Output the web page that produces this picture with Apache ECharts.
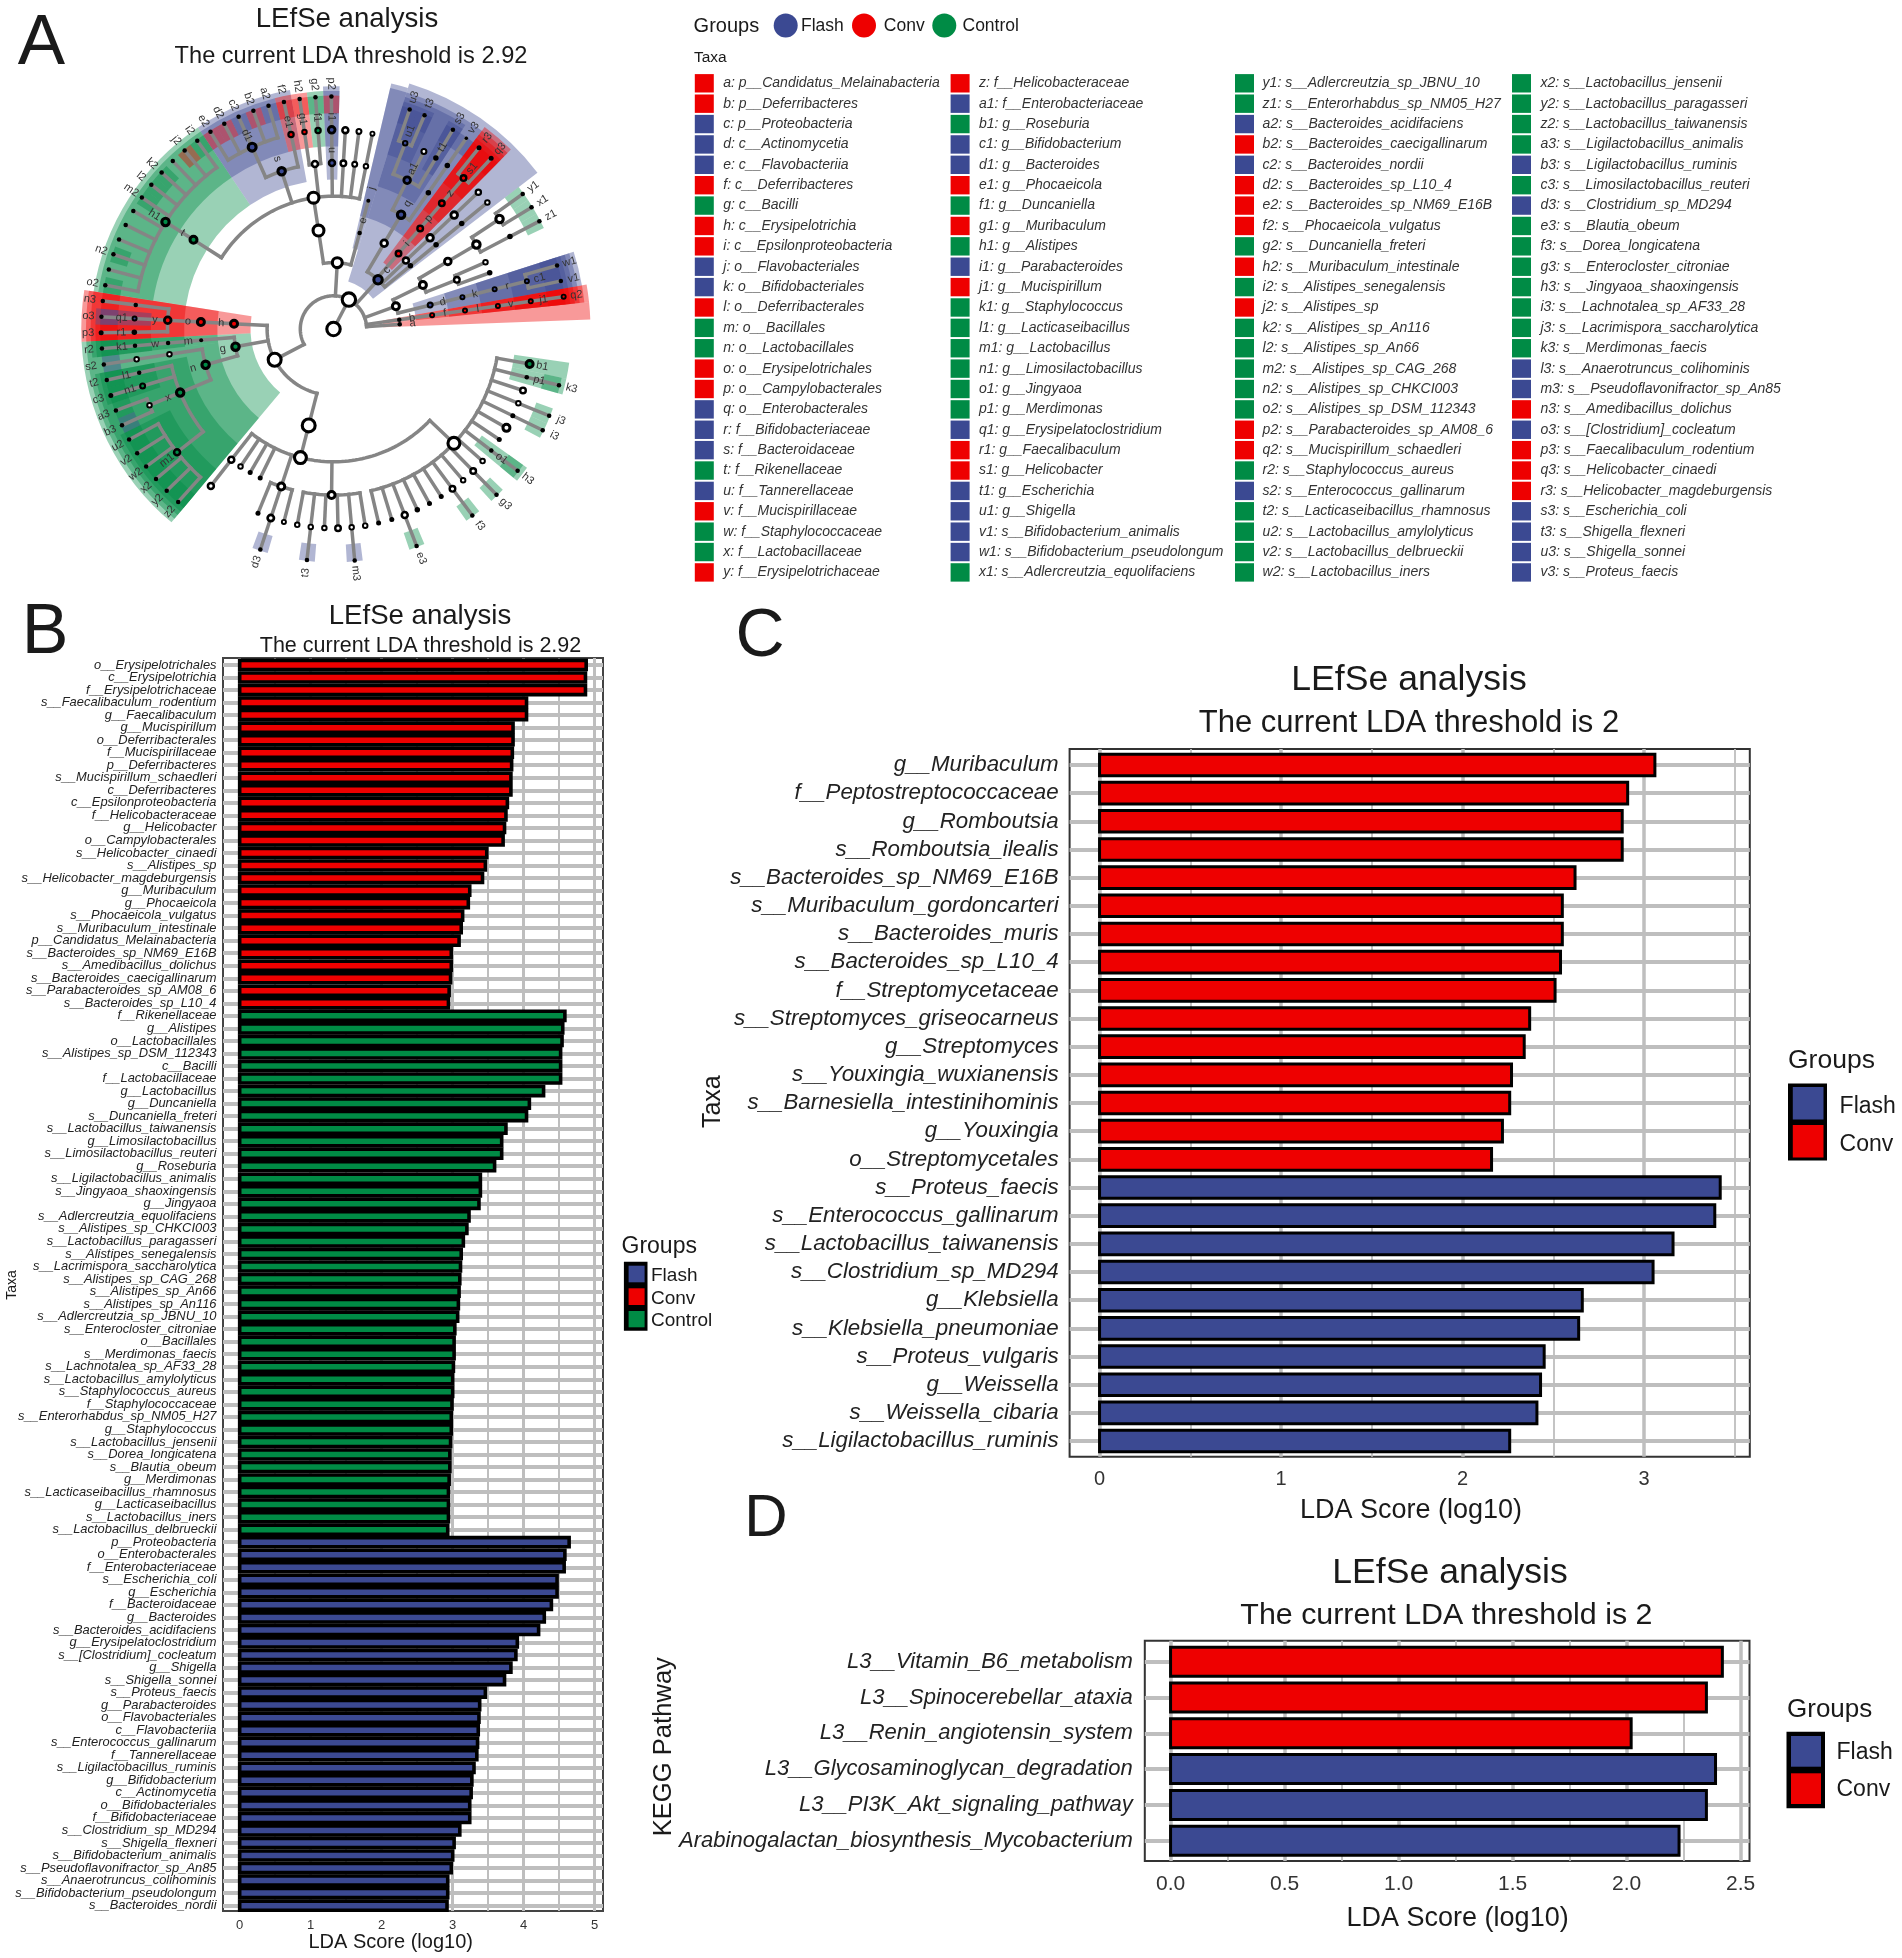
<!DOCTYPE html>
<html><head><meta charset="utf-8"><style>html,body{margin:0;padding:0;background:#fff}#c{width:1902px;height:1958px}</style>
<script src="https://cdn.jsdelivr.net/npm/echarts@6/dist/echarts.min.js"></script></head><body><div id="c"></div>
<script>
/* ---------- DATA: panel B ---------- */
const bConvTaxa=["o__Erysipelotrichales","c__Erysipelotrichia","f__Erysipelotrichaceae","s__Faecalibaculum_rodentium","g__Faecalibaculum","g__Mucispirillum","o__Deferribacterales","f__Mucispirillaceae","p__Deferribacteres","s__Mucispirillum_schaedleri","c__Deferribacteres","c__Epsilonproteobacteria","f__Helicobacteraceae","g__Helicobacter","o__Campylobacterales","s__Helicobacter_cinaedi","s__Alistipes_sp","s__Helicobacter_magdeburgensis","g__Muribaculum","g__Phocaeicola","s__Phocaeicola_vulgatus","s__Muribaculum_intestinale","p__Candidatus_Melainabacteria","s__Bacteroides_sp_NM69_E16B","s__Amedibacillus_dolichus","s__Bacteroides_caecigallinarum","s__Parabacteroides_sp_AM08_6","s__Bacteroides_sp_L10_4"];
const bConvScores=[4.88,4.87,4.87,4.04,4.04,3.85,3.85,3.84,3.83,3.82,3.82,3.77,3.75,3.73,3.71,3.48,3.46,3.42,3.24,3.22,3.14,3.12,3.09,2.98,2.98,2.97,2.95,2.94];
const bControlTaxa=["f__Rikenellaceae","g__Alistipes","o__Lactobacillales","s__Alistipes_sp_DSM_112343","c__Bacilli","f__Lactobacillaceae","g__Lactobacillus","g__Duncaniella","s__Duncaniella_freteri","s__Lactobacillus_taiwanensis","g__Limosilactobacillus","s__Limosilactobacillus_reuteri","g__Roseburia","s__Ligilactobacillus_animalis","s__Jingyaoa_shaoxingensis","g__Jingyaoa","s__Adlercreutzia_equolifaciens","s__Alistipes_sp_CHKCI003","s__Lactobacillus_paragasseri","s__Alistipes_senegalensis","s__Lacrimispora_saccharolytica","s__Alistipes_sp_CAG_268","s__Alistipes_sp_An66","s__Alistipes_sp_An116","s__Adlercreutzia_sp_JBNU_10","s__Enterocloster_citroniae","o__Bacillales","s__Merdimonas_faecis","s__Lachnotalea_sp_AF33_28","s__Lactobacillus_amylolyticus","s__Staphylococcus_aureus","f__Staphylococcaceae","s__Enterorhabdus_sp_NM05_H27","g__Staphylococcus","s__Lactobacillus_jensenii","s__Dorea_longicatena","s__Blautia_obeum","g__Merdimonas","s__Lacticaseibacillus_rhamnosus","g__Lacticaseibacillus","s__Lactobacillus_iners","s__Lactobacillus_delbrueckii"];
const bControlScores=[4.58,4.55,4.54,4.52,4.52,4.52,4.28,4.08,4.04,3.75,3.69,3.69,3.59,3.39,3.39,3.37,3.23,3.2,3.15,3.12,3.11,3.1,3.09,3.08,3.07,3.03,3.02,3.02,3.01,3.0,3.0,2.99,2.98,2.98,2.97,2.96,2.96,2.95,2.94,2.94,2.94,2.93];
const bFlashTaxa=["p__Proteobacteria","o__Enterobacterales","f__Enterobacteriaceae","s__Escherichia_coli","g__Escherichia","f__Bacteroidaceae","g__Bacteroides","s__Bacteroides_acidifaciens","g__Erysipelatoclostridium","s__[Clostridium]_cocleatum","g__Shigella","s__Shigella_sonnei","s__Proteus_faecis","g__Parabacteroides","o__Flavobacteriales","c__Flavobacteriia","s__Enterococcus_gallinarum","f__Tannerellaceae","s__Ligilactobacillus_ruminis","g__Bifidobacterium","c__Actinomycetia","o__Bifidobacteriales","f__Bifidobacteriaceae","s__Clostridium_sp_MD294","s__Shigella_flexneri","s__Bifidobacterium_animalis","s__Pseudoflavonifractor_sp_An85","s__Anaerotruncus_colihominis","s__Bifidobacterium_pseudolongum","s__Bacteroides_nordii"];
const bFlashScores=[4.64,4.58,4.57,4.47,4.47,4.39,4.29,4.21,3.91,3.89,3.82,3.73,3.46,3.38,3.37,3.36,3.35,3.34,3.30,3.27,3.26,3.24,3.24,3.10,3.02,3.0,2.98,2.93,2.93,2.92];
/* ---------- DATA: panel C ---------- */
const cConvTaxa=["g__Muribaculum","f__Peptostreptococcaceae","g__Romboutsia","s__Romboutsia_ilealis","s__Bacteroides_sp_NM69_E16B","s__Muribaculum_gordoncarteri","s__Bacteroides_muris","s__Bacteroides_sp_L10_4","f__Streptomycetaceae","s__Streptomyces_griseocarneus","g__Streptomyces","s__Youxingia_wuxianensis","s__Barnesiella_intestinihominis","g__Youxingia","o__Streptomycetales"];
const cConvScores=[3.06,2.91,2.88,2.88,2.62,2.55,2.55,2.54,2.51,2.37,2.34,2.27,2.26,2.22,2.16];
const cFlashTaxa=["s__Proteus_faecis","s__Enterococcus_gallinarum","s__Lactobacillus_taiwanensis","s__Clostridium_sp_MD294","g__Klebsiella","s__Klebsiella_pneumoniae","s__Proteus_vulgaris","g__Weissella","s__Weissella_cibaria","s__Ligilactobacillus_ruminis"];
const cFlashScores=[3.42,3.39,3.16,3.05,2.66,2.64,2.45,2.43,2.41,2.26];
/* ---------- DATA: panel D ---------- */
const dConvTaxa=["L3__Vitamin_B6_metabolism","L3__Spinocerebellar_ataxia","L3__Renin_angiotensin_system"];
const dConvScores=[2.42,2.35,2.02];
const dFlashTaxa=["L3__Glycosaminoglycan_degradation","L3__PI3K_Akt_signaling_pathway","Arabinogalactan_biosynthesis_Mycobacterium"];
const dFlashScores=[2.39,2.35,2.23];
/* ---------- DATA: panel A taxa key ---------- */
const taxaCol1=["a: p__Candidatus_Melainabacteria","b: p__Deferribacteres","c: p__Proteobacteria","d: c__Actinomycetia","e: c__Flavobacteriia","f: c__Deferribacteres","g: c__Bacilli","h: c__Erysipelotrichia","i: c__Epsilonproteobacteria","j: o__Flavobacteriales","k: o__Bifidobacteriales","l: o__Deferribacterales","m: o__Bacillales","n: o__Lactobacillales","o: o__Erysipelotrichales","p: o__Campylobacterales","q: o__Enterobacterales","r: f__Bifidobacteriaceae","s: f__Bacteroidaceae","t: f__Rikenellaceae","u: f__Tannerellaceae","v: f__Mucispirillaceae","w: f__Staphylococcaceae","x: f__Lactobacillaceae","y: f__Erysipelotrichaceae"];
const taxaCol2=["z: f__Helicobacteraceae","a1: f__Enterobacteriaceae","b1: g__Roseburia","c1: g__Bifidobacterium","d1: g__Bacteroides","e1: g__Phocaeicola","f1: g__Duncaniella","g1: g__Muribaculum","h1: g__Alistipes","i1: g__Parabacteroides","j1: g__Mucispirillum","k1: g__Staphylococcus","l1: g__Lacticaseibacillus","m1: g__Lactobacillus","n1: g__Limosilactobacillus","o1: g__Jingyaoa","p1: g__Merdimonas","q1: g__Erysipelatoclostridium","r1: g__Faecalibaculum","s1: g__Helicobacter","t1: g__Escherichia","u1: g__Shigella","v1: s__Bifidobacterium_animalis","w1: s__Bifidobacterium_pseudolongum","x1: s__Adlercreutzia_equolifaciens"];
const taxaCol3=["y1: s__Adlercreutzia_sp_JBNU_10","z1: s__Enterorhabdus_sp_NM05_H27","a2: s__Bacteroides_acidifaciens","b2: s__Bacteroides_caecigallinarum","c2: s__Bacteroides_nordii","d2: s__Bacteroides_sp_L10_4","e2: s__Bacteroides_sp_NM69_E16B","f2: s__Phocaeicola_vulgatus","g2: s__Duncaniella_freteri","h2: s__Muribaculum_intestinale","i2: s__Alistipes_senegalensis","j2: s__Alistipes_sp","k2: s__Alistipes_sp_An116","l2: s__Alistipes_sp_An66","m2: s__Alistipes_sp_CAG_268","n2: s__Alistipes_sp_CHKCI003","o2: s__Alistipes_sp_DSM_112343","p2: s__Parabacteroides_sp_AM08_6","q2: s__Mucispirillum_schaedleri","r2: s__Staphylococcus_aureus","s2: s__Enterococcus_gallinarum","t2: s__Lacticaseibacillus_rhamnosus","u2: s__Lactobacillus_amylolyticus","v2: s__Lactobacillus_delbrueckii","w2: s__Lactobacillus_iners"];
const taxaCol4=["x2: s__Lactobacillus_jensenii","y2: s__Lactobacillus_paragasseri","z2: s__Lactobacillus_taiwanensis","a3: s__Ligilactobacillus_animalis","b3: s__Ligilactobacillus_ruminis","c3: s__Limosilactobacillus_reuteri","d3: s__Clostridium_sp_MD294","e3: s__Blautia_obeum","f3: s__Dorea_longicatena","g3: s__Enterocloster_citroniae","h3: s__Jingyaoa_shaoxingensis","i3: s__Lachnotalea_sp_AF33_28","j3: s__Lacrimispora_saccharolytica","k3: s__Merdimonas_faecis","l3: s__Anaerotruncus_colihominis","m3: s__Pseudoflavonifractor_sp_An85","n3: s__Amedibacillus_dolichus","o3: s__[Clostridium]_cocleatum","p3: s__Faecalibaculum_rodentium","q3: s__Helicobacter_cinaedi","r3: s__Helicobacter_magdeburgensis","s3: s__Escherichia_coli","t3: s__Shigella_flexneri","u3: s__Shigella_sonnei","v3: s__Proteus_faecis"];
const taxaGroups1="RRBBBRGRRBBRGGRRBBBGBRGGR", taxaGroups2="RBGBBRGRGBRGGGGGGBRRBBBBG", taxaGroups3="GGBRBRRRGRGRGGGGGRRGBGGGG", taxaGroups4="GGGGBGBGGGGGGGBBRBRRRBBBB";
/* ---------- DATA: panel A cladogram; node = [label, abundance, ...children], leaves listed clockwise ---------- */
const N=(l,a,...k)=>({label:l,ab:a,kids:k});
const T=(l,a=4.5)=>N(l,a);
const cladeClostridiaLarge=N('',15,N('b1',10),N('p1',4.5,T('k3')),N('',8),N('',6.5,T('j3')),N('',5,T('i3')),N('',10),N('',5),N('o1',4.5,T('h3')),N('',6.5),N('',8,T('g3')),N('',6.5),N('',8,T('f3')),N('',5),N('',5),N('',5.5),N('',8.5,T('e3')),N('',5),N('',5));
const cladeClostridiaMid=N('',10,N('',6.5),N('',6.5,T('m3')),N('',8),N('',6.5),N('',6.5,T('t3')),N('',6.5));
const cladeClostridiaSmall=N('',10,N('',6),N('',9,T('d3')),N('',5));
const cladeClostridia=N('',16,N('',15,cladeClostridiaLarge,cladeClostridiaMid,cladeClostridiaSmall,N('',5),N('',5),N('',6.5),N('',8.5,N('',8.5))));
const cladeBacilli=N('g',10.5,N('n',10.5,N('x',10.5,N('m1',8.5,T('z2'),T('y2'),T('x2'),T('w2'),T('v2'),T('u2')),N('',6.5,T('b3'),T('a3')),N('n1',7,T('c3',5)),N('l1',4.5,T('t2'))),N('',6.5,N('',6.5,T('s2')))),N('m',4,N('w',4.5,N('k1',4.5,T('r2')))));
const cladeErysipelo=N('h',10,N('o',10,N('y',9.5,N('r1',5.5,T('p3',5)),N('q1',6,T('o3')),N('',4.5,T('n3')))));
const cladeRikenella=N('t',10,N('h1',10.5,T('o2'),T(''),T('n2'),T(''),T(''),T(''),T('m2'),T('l2'),T('k2'),T(''),T('j2'),T('i2')));
const cladeBacteroidaceae=N('s',10.5,N('d1',11,T('e2'),T('d2'),T('c2'),T('b2'),T('a2')),N('e1',7.5,T('f2')));
const cladeBacteroidota=N('',13,N('',14,N('',14,cladeRikenella,cladeBacteroidaceae,N('',8.5,N('g1',6.5,T('h2')),N('f1',7.5,T('g2'))),N('u',8.5,N('i1',9.5,T('p2'))),N('',8,N('',8.5)),N('',7,N('',7)),N('',6.5,N('',6)))),N('e',4.5,N('j',4)));
const cladeEnterobac=N('',9.5,N('q',10.5,N('a1',9.5,N('u1',6.5,T('u3'),T('t3')),N('',7),N('t1',5.5,T('s3'))),N('',5.5,N('',5.5,T('v3',3.5)))));
const cladeProteo=N('c',11.5,cladeEnterobac,N('i',8,N('p',8,N('z',8,N('s1',8,T('r3',5),T('q3',5))))),N('',8.5,N('',9.5,N('',9.5,N('',7.5)))),N('',5.5,N('',5.5,N('',5.5,N('',6.5)))));
const cladeActino=N('',10,N('',10,N('',9.5,N('',10.5,N('',10.5,T('y1'),T('x1')),N('',5.5,T('z1')))),N('',8,N('',6.5),N('',5.5))),N('d',7,N('k',6,N('r',6,N('c1',6,T('w1'),T('v1'))))));
const cladeDeferri=N('b',4.5,N('f',6,N('l',6,N('v',6,N('j1',6,T('q2',6))))));
const cladeMelaina=N('a',4.5);
const cladeFirmicutes=N('',16,cladeClostridia,cladeBacilli,cladeErysipelo);
const cladeRoot=N('',16.5,N('',16.5,cladeFirmicutes,cladeBacteroidota,cladeProteo,cladeActino,cladeDeferri,cladeMelaina));
const groupColors={B:'#3B4992',R:'#EE0000',G:'#008B45'};

/* ---------- cladogram layout from the tree ---------- */
const tipStart=-10.1, tipStep=-3.93;
const keyGroup={};
[[taxaCol1,taxaGroups1],[taxaCol2,taxaGroups2],[taxaCol3,taxaGroups3],[taxaCol4,taxaGroups4]].forEach(([c,g])=>c.forEach((t,i)=>{keyGroup[t.split(':')[0]]=g[i];}));
let tipCount=0; const allNodes=[], edgeRows=[];
(function lay(n,depth){
  n.depth=depth;
  n.kids.forEach(k=>lay(k,depth+1));
  if(!n.kids.length){n.angle=n.lo=n.hi=tipStart+tipStep*tipCount++;}
  else{
    const as=n.kids.map(k=>k.angle);
    n.angle=as.reduce((a,b)=>a+b,0)/as.length;
    n.hi=Math.max(...n.kids.map(k=>k.hi)); n.lo=Math.min(...n.kids.map(k=>k.lo));
    if(as.length>1) edgeRows.push([depth,Math.min(...as),depth,Math.max(...as)]);
    n.kids.forEach(k=>edgeRows.push([depth,k.angle,depth+1,k.angle]));
  }
  allNodes.push(n);
})(cladeRoot,0);
const shadeRows=allNodes.filter(n=>n.label&&keyGroup[n.label]).sort((a,b)=>a.depth-b.depth)
  .map(n=>[n.depth-0.5,n.lo+tipStep/2,n.hi-tipStep/2,7.03+(7-n.depth)*0.142,groupColors[keyGroup[n.label]]]);
const nodeRows=allNodes.map(n=>[n.depth,n.angle,n.ab,n.label&&keyGroup[n.label]?keyGroup[n.label]:'']);
const labelRows=allNodes.filter(n=>n.label).map(n=>[n.depth+0.39,n.angle,n.label]);

/* ---------- shared style ---------- */
const FF='"Liberation Sans",Arial,sans-serif', INK='#1a1a1a', GRID='#BEBEBE';
const gfx=[];
const txt=(text,x,y,size,o={})=>gfx.push({type:'text',x,y,rotation:o.rot||0,silent:true,style:{text,fontSize:size,fontFamily:FF,fontStyle:o.italic?'italic':'normal',fill:o.fill||INK,align:o.align||'center',verticalAlign:'middle'}});
const box=(x,y,w,h,fill)=>gfx.push({type:'rect',silent:true,shape:{x,y,width:w,height:h},style:{fill}});

/* panel letters and titles */
txt('A',41.5,44,71);txt('B',45,634,70);txt('C',760,637,68);txt('D',766,1519,60);
txt('LEfSe analysis',347,19.5,27.6);txt('The current LDA threshold is 2.92',351,56.8,23.6);
txt('LEfSe analysis',420,616,27.6);txt('The current LDA threshold is 2.92',420.5,646,21.5);
txt('LEfSe analysis',1409,680.5,35.6);txt('The current LDA threshold is 2',1409,723,31);
txt('LEfSe analysis',1450,1572.7,35.6);txt('The current LDA threshold is 2',1446.4,1616,30.4);
/* axis titles */
txt('LDA Score (log10)',390.7,1942,20);txt('Taxa',12.3,1285,14,{rot:Math.PI/2});
txt('LDA Score (log10)',1411,1511,27);txt('Taxa',713,1101.7,25,{rot:Math.PI/2});
txt('LDA Score (log10)',1457.6,1919,27);txt('KEGG Pathway',664,1746.7,25.6,{rot:Math.PI/2});
/* panel A group key */
txt('Groups',693.6,26,20,{align:'left'});
[['Flash','B',785.7,801],['Conv','R',864,883.8],['Control','G',944.3,962.5]].forEach(([t,g,cx,tx])=>{
  gfx.push({type:'circle',silent:true,shape:{cx,cy:25.6,r:12},style:{fill:groupColors[g]}});
  txt(t,tx,26,17.5,{align:'left'});
});
txt('Taxa',694,57.4,15.5,{align:'left'});
[[taxaCol1,taxaGroups1,694.8,723.3],[taxaCol2,taxaGroups2,950.6,979],[taxaCol3,taxaGroups3,1235,1262.6],[taxaCol4,taxaGroups4,1512,1540.4]].forEach(([col,grp,bx,tx])=>{
  col.forEach((t,i)=>{const cy=83.3+20.38*i;box(bx,cy-9.2,19,18.4,groupColors[grp[i]]);txt(t,tx,cy,14,{align:'left',italic:true,fill:'#333'});});
});
/* bar-panel legends */
function barLegend(tx,ty,size,bx,by,bw,bh,fx,fw,rows,lx,lsize,names,dy){
  txt('Groups',tx,ty,size,{align:'left'});
  box(bx,by,bw,bh,'#000');
  rows.forEach((r,i)=>{box(fx,r[0],fw,r[1]-r[0],groupColors[names[i][1]]);txt(names[i][0],lx,(r[0]+r[1])/2+dy,lsize,{align:'left'});});
}
barLegend(621.5,1247,23,623.9,1261.7,23.6,69,628.6,16,[[1265.7,1282.3],[1288.3,1305],[1311,1327.3]],651,19,[['Flash','B'],['Conv','R'],['Control','G']],2);
barLegend(1788,1060.5,26.5,1788,1083.6,39,76.8,1792.8,30.7,[[1087,1119.4],[1125,1157.5]],1839.6,23,[['Flash','B'],['Conv','R']],3);
barLegend(1787,1709.5,26,1786.5,1731.7,38.5,76.6,1791,30,[[1736,1766.7],[1773.3,1804]],1836.5,23,[['Flash','B'],['Conv','R']],1);

/* ---------- bar panels ---------- */
const grids=[],xAxes=[],yAxes=[],seriesList=[];
function barPanel(p){
  const g=grids.length, H=p.bottom-p.top, W=p.right-p.left, ppu=W/(p.max-p.min), shift=p.barB/2/ppu;
  const lab=(v)=>p.dec?Number(v).toFixed(p.dec):String(v);
  grids.push({left:p.left,top:p.top,width:W,height:H,show:true,borderColor:p.border,borderWidth:p.borderW,backgroundColor:'transparent'});
  grids.push({left:p.left,top:p.rowTop,width:W,height:p.rowH});
  const x0=xAxes.length,y0=yAxes.length;
  xAxes.push({type:'value',gridIndex:g,min:p.min,max:p.max,axisLine:{show:false},axisTick:{show:false,customValues:p.major},
    axisLabel:{customValues:p.major,fontSize:p.tickSize,fontFamily:FF,color:'#333',margin:p.tickMargin,formatter:lab},
    splitLine:{show:true,lineStyle:{color:GRID,width:p.majW}}});
  xAxes.push({type:'value',gridIndex:g,min:p.min,max:p.max,axisLine:{show:false},axisLabel:{show:false},axisTick:{show:false,customValues:p.minor},
    splitLine:{show:true,lineStyle:{color:GRID,width:p.minW}}});
  /* ECharts draws a bar's border inside its rectangle; the bar axis is offset so the border straddles the value as in the reference */
  xAxes.push({type:'value',gridIndex:g+1,min:p.min+shift,max:p.max+shift,show:false,splitLine:{show:false}});
  yAxes.push({type:'value',gridIndex:g,min:0,max:1,show:false,splitLine:{show:false}});
  yAxes.push({type:'category',gridIndex:g+1,inverse:true,data:p.taxa,axisLine:{show:false},
    axisTick:{alignWithLabel:true,length:3,lineStyle:{color:'#444',width:p.tickW}},
    axisLabel:{interval:0,fontSize:p.labelSize,fontStyle:'italic',fontFamily:FF,color:'#222',margin:p.labelMargin},
    splitLine:{show:true,alignWithLabel:true,interval:0,lineStyle:{color:GRID,width:p.rowW}}});
  seriesList.push({type:'bar',xAxisIndex:x0+2,yAxisIndex:y0+1,barWidth:p.barW,silent:true,
    data:p.scores.map((v,i)=>({value:v+2*shift,itemStyle:{color:groupColors[p.groups[i]],borderColor:'#000',borderWidth:p.barB}}))});
}
const rep=(c,n)=>Array(n).fill(c);
barPanel({left:223,right:603,top:658,bottom:1911,rowTop:658.7,rowH:1253.2,min:-0.235,max:5.117,border:'#444',borderW:2,major:[0,1,2,3,4,5],minor:[0.5,1.5,2.5,3.5,4.5],
  majW:3,minW:2,rowW:4,tickW:3,tickSize:13,tickMargin:8,labelSize:12.9,labelMargin:6.5,barW:12.7,barB:3.6,
  taxa:[...bConvTaxa,...bControlTaxa,...bFlashTaxa],scores:[...bConvScores,...bControlScores,...bFlashScores],groups:[...rep('R',bConvTaxa.length),...rep('G',bControlTaxa.length),...rep('B',bFlashTaxa.length)]});
barPanel({left:1069.6,right:1749.8,top:749,bottom:1456.8,rowTop:750.9,rowH:704.2,min:-0.165,max:3.583,border:'#333',borderW:2,major:[0,1,2,3],minor:[0.5,1.5,2.5,3.5],
  majW:3.5,minW:1.8,rowW:4,tickW:3,tickSize:20,tickMargin:13,labelSize:22.3,labelMargin:11,barW:24.6,barB:3,
  taxa:[...cConvTaxa,...cFlashTaxa],scores:[...cConvScores,...cFlashScores],groups:[...rep('R',cConvTaxa.length),...rep('B',cFlashTaxa.length)]});
barPanel({left:1144.8,right:1749.5,top:1640.7,bottom:1861,rowTop:1643.8,rowH:214.8,min:-0.113,max:2.539,border:'#333',borderW:2,major:[0,0.5,1,1.5,2,2.5],minor:[0.25,0.75,1.25,1.75,2.25],dec:1,
  majW:3.5,minW:1.8,rowW:4,tickW:3,tickSize:21,tickMargin:13,labelSize:22,labelMargin:12,barW:32,barB:3,
  taxa:[...dConvTaxa,...dFlashTaxa],scores:[...dConvScores,...dFlashScores],groups:[...rep('R',dConvTaxa.length),...rep('B',dFlashTaxa.length)]});

/* ---------- cladogram series ---------- */
const rad=d=>d*Math.PI/180;
const pxR=(api,p,l)=>{const c=api.coord([l,-90]);return Math.hypot(c[0]-p.coordSys.cx,c[1]-p.coordSys.cy);};
seriesList.push({type:'custom',coordinateSystem:'polar',silent:true,data:shadeRows,z:3,encode:{radius:0,angle:1},
  renderItem(p,api){const [r0,a0,a1,r1,col]=shadeRows[p.dataIndex];
    return {type:'sector',shape:{cx:p.coordSys.cx,cy:p.coordSys.cy,r0:pxR(api,p,r0),r:pxR(api,p,r1),startAngle:rad(-a1),endAngle:rad(-a0),clockwise:true},style:{fill:col,opacity:0.4}};}});
seriesList.push({type:'custom',coordinateSystem:'polar',silent:true,data:edgeRows,z:4,encode:{radius:0,angle:1},
  renderItem(p,api){const [l0,a0,l1,a1]=edgeRows[p.dataIndex],pts=[];
    if(l0===l1){const n=Math.max(2,Math.ceil(Math.abs(a1-a0)/1.5));for(let i=0;i<=n;i++)pts.push(api.coord([l0,a0+(a1-a0)*i/n]));}
    else pts.push(api.coord([l0,a0]),api.coord([l1,a1]));
    return {type:'polyline',shape:{points:pts},style:{stroke:'#858585',lineWidth:3.5,fill:null,lineCap:'square',lineJoin:'round'}};}});
seriesList.push({type:'custom',coordinateSystem:'polar',silent:true,data:nodeRows,z:5,encode:{radius:0,angle:1},
  renderItem(p,api){const [l,a,d,g]=nodeRows[p.dataIndex],c=api.coord([l,a]);
    const solid=d<=5.5, sw=solid?0:Math.max(1.9,Math.min(3.1,d*0.3));
    const fill=solid?'#000':(g?groupColors[g]:'#fff');
    return {type:'circle',shape:{cx:c[0],cy:c[1],r:solid?d/2:(d-sw)/2},style:{fill,stroke:'#000',lineWidth:sw}};}});
seriesList.push({type:'custom',coordinateSystem:'polar',silent:true,data:labelRows,z:6,encode:{radius:0,angle:1},
  renderItem(p,api){const [l,a,t]=labelRows[p.dataIndex],c=api.coord([l,a]);
    let m=((a%360)+540)%360-180; if(m>90)m-=180; if(m<-90)m+=180;
    return {type:'text',x:c[0],y:c[1],rotation:rad(m),style:{text:t,fontSize:11,fontFamily:FF,fill:'#333',align:'center',verticalAlign:'middle'}};}});

const chart=echarts.init(document.getElementById('c'),null,{renderer:'canvas',width:1902,height:1958});
chart.setOption({animation:false,backgroundColor:'#fff',textStyle:{fontFamily:FF},
  polar:{center:[333.5,329],radius:[0,232.4]},
  radiusAxis:{min:0,max:7,show:false},
  angleAxis:{min:-360,max:0,startAngle:0,clockwise:false,show:false},
  grid:grids,xAxis:xAxes,yAxis:yAxes,series:seriesList,graphic:{elements:gfx}});
</script></body></html>
